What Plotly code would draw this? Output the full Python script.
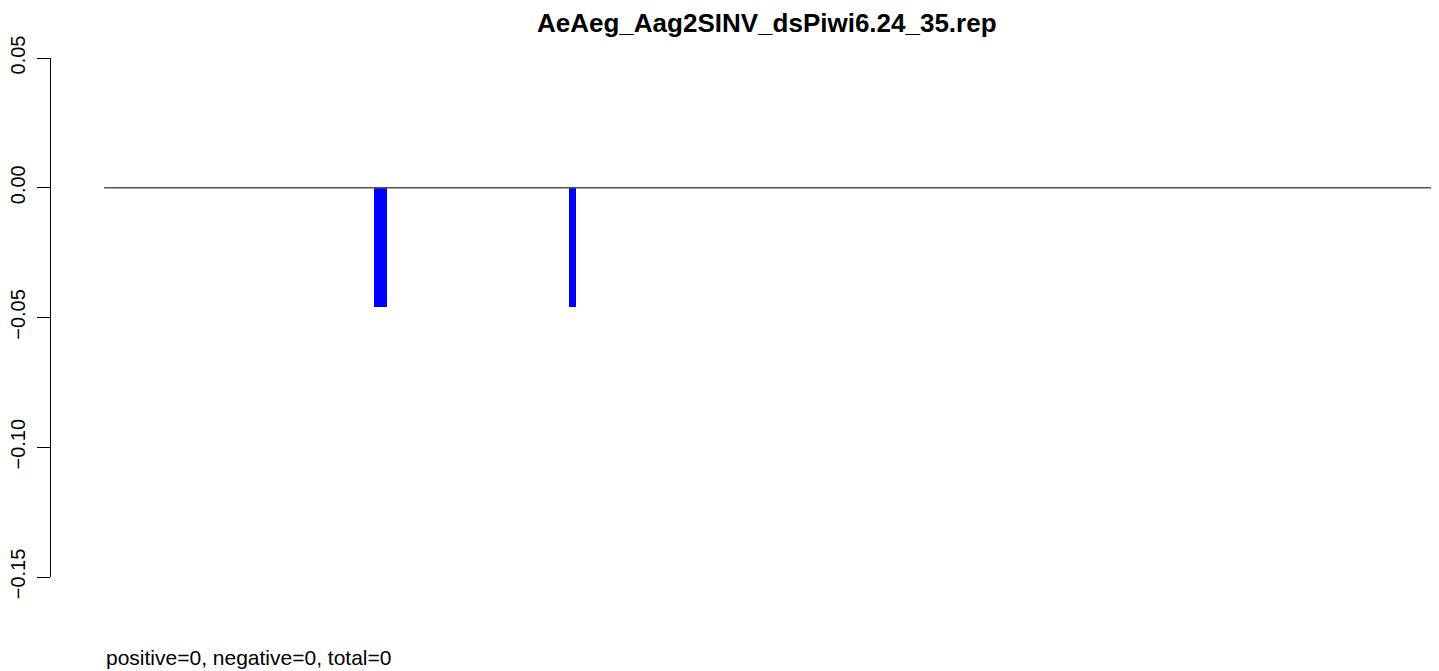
import plotly.graph_objects as go

# ---- data ----
title_text = "AeAeg_Aag2SINV_dsPiwi6.24_35.rep"
footer_text = "positive=0, negative=0, total=0"
seq_start = 0
seq_end = 1328
bar_starts = [270, 465]
bar_ends = [283, 472]
bar_values = [-0.046, -0.046]
y_tick_vals = [0.05, 0.00, -0.05, -0.10, -0.15]
y_tick_text = ["0.05", "0.00", "\u22120.05", "\u22120.10", "\u22120.15"]

# page body has an 8px margin, so the figure is sized/offset to compensate
W, H = 1431, 663
FONT = "Liberation Sans, Arial, Helvetica, sans-serif"

centers = [(s + e) / 2 for s, e in zip(bar_starts, bar_ends)]
widths = [e - s for s, e in zip(bar_starts, bar_ends)]

fig = go.Figure()
fig.add_trace(go.Scatter(
    x=[seq_start, seq_end], y=[0, 0], mode="lines",
    line=dict(color="#555555", width=1.3), hoverinfo="skip", showlegend=False,
))
fig.add_trace(go.Bar(
    x=centers, y=bar_values, width=widths,
    marker=dict(color="#0000FF", line=dict(width=0)), showlegend=False,
))

ext = 0.04 * (seq_end - seq_start)
fig.update_layout(
    width=W, height=H,
    margin=dict(l=43, r=0, t=50, b=94, pad=0, autoexpand=False),
    paper_bgcolor="white", plot_bgcolor="white",
    font=dict(family=FONT, color="black"),
    xaxis=dict(range=[seq_start - ext, seq_start - ext + 1388], visible=False,
               fixedrange=True, automargin=False),
    yaxis=dict(
        range=[-0.15, 0.05], tickvals=y_tick_vals, ticktext=y_tick_text,
        tickangle=-90, ticks="outside", ticklen=13, tickwidth=1.3, tickcolor="black",
        showline=True, linecolor="black", linewidth=1.3, showgrid=False, zeroline=False,
        tickfont=dict(size=20, family=FONT, color="black"), ticklabelstandoff=4,
        automargin=False,
    ),
    bargap=0,
    annotations=[
        dict(text="<b>" + title_text + "</b>", xref="paper", yref="paper",
             x=(767 - 51) / 1388, y=(577 - 23) / 519, xanchor="center", yanchor="middle",
             showarrow=False, borderpad=0, font=dict(size=26, family=FONT, color="black")),
        dict(text=footer_text, xref="x", yref="paper",
             x=seq_start, y=(577 - 657) / 519, xanchor="left", yanchor="middle",
             showarrow=False, font=dict(size=21, family=FONT, color="black")),
    ],
)

fig.write_html("out.html")
